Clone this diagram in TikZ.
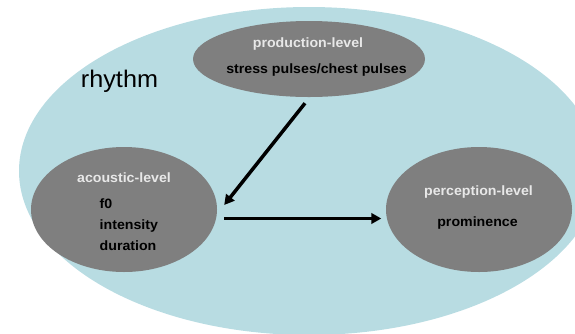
\documentclass[tikz,border=0pt]{standalone}
\usepackage{fontspec}
\setmainfont[FakeStretch=1.05]{Liberation Sans}
\usepackage{tikz}
\usetikzlibrary{shapes.geometric,arrows.meta}
\definecolor{rhythmblue}{RGB}{184,220,226}
\definecolor{levelgray}{RGB}{127,127,127}
\definecolor{titlegray}{RGB}{232,232,232}

\begin{document}
\begin{tikzpicture}[x=1pt,y=-1pt,
  level/.style={ellipse,fill=levelgray,inner sep=0},
  title/.style={text=titlegray,font=\fontsize{13.5}{16}\selectfont\bfseries,inner sep=0,anchor=base},
  item/.style={text=black,font=\fontsize{13.5}{16}\selectfont\bfseries,inner sep=0,anchor=base},
  link/.style={line width=3.5pt,-{Triangle[length=10pt,width=10.5pt]}}]
\useasboundingbox (0,0) rectangle (575,333);
\begin{scope}
\clip (0,0) rectangle (575,333);
\fill[rhythmblue] (309,171) ellipse [x radius=290pt,y radius=164pt];
\end{scope}
\node[anchor=base,inner sep=0,font=\fontsize{24}{28}\selectfont] (rhythm) at (119.5,87) {rhythm};
% the three levels
\node[level,minimum width=232pt,minimum height=76pt] (prod) at (309,59) {};
\node[level,minimum width=186pt,minimum height=125pt] (acou) at (124,209.5) {};
\node[level,minimum width=186pt,minimum height=125pt] (perc) at (479,209.5) {};
\node[title] (prodtitle) at (308,47) {production-level};
\node[item] (prodtext) at (316.5,73.5) {stress pulses/chest pulses};
\node[title] (acoutitle) at (124,182) {acoustic-level};
\foreach \t [count=\i] in {f0,intensity,duration}{
    \node[item,anchor=base west] (acou\i) at (99.5,{187.5+21*\i}) {\t};
}
\node[title] (perctitle) at (478.5,195.5) {perception-level};
\node[item] (perctext) at (477.5,226) {prominence};
\draw[link] ([shift={(-4,6)}]prod.south) -- ([shift={(7,-4.5)}]acou.east);
\draw[link] ([shift={(7,9)}]acou.east) -- ([shift={(-4.5,9)}]perc.west);
\end{tikzpicture}
\end{document}
